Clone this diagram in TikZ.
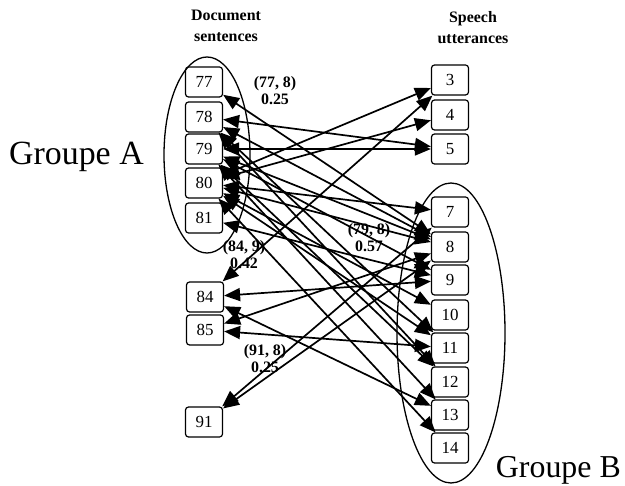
\documentclass[tikz,border=0pt]{standalone}
\usepackage{fontspec}
\setmainfont{Liberation Serif}
\usetikzlibrary{arrows.meta}
\begin{document}
\begin{tikzpicture}[x=1bp,y=-1bp,
  numbox/.style={draw,line width=1.2bp,rounded corners=3bp,minimum width=37bp,minimum height=30bp,inner sep=0pt,font=\fontsize{17}{17}\selectfont},
  link/.style={line width=1.7bp,{Triangle[length=16bp,width=13bp]}-{Triangle[length=16bp,width=13bp]}},
  head/.style={font=\bfseries\fontsize{16}{21}\selectfont,align=center,inner sep=0pt},
  score/.style={font=\bfseries\fontsize{16}{17}\selectfont,align=center,inner sep=0pt},
  group/.style={font=\fontsize{32}{32}\selectfont,inner sep=0pt},
  oval/.style={line width=1.3bp}]
\useasboundingbox (0,0) rectangle (625,486);

% column headings
\node[head] (hdoc) at (226,26) {Document\\sentences};
\node[head] (hsp) at (473,28) {Speech\\utterances};

% document sentences
\node[numbox] (d77) at (204,82) {77};
\node[numbox] (d78) at (204,117) {78};
\node[numbox] (d79) at (204,149) {79};
\node[numbox] (d80) at (204,183) {80};
\node[numbox] (d81) at (204,218) {81};
\node[numbox] (d84) at (205,297) {84};
\node[numbox] (d85) at (205,330) {85};
\node[numbox] (d91) at (204,422) {91};

% speech utterances
\node[numbox] (s3) at (450,80) {3};
\node[numbox] (s4) at (450,115) {4};
\node[numbox] (s5) at (450,149) {5};
\node[numbox] (s7) at (450,212) {7};
\node[numbox] (s8) at (450,247) {8};
\node[numbox] (s9) at (450,280) {9};
\node[numbox] (s10) at (450,315) {10};
\node[numbox] (s11) at (450,348) {11};
\node[numbox] (s12) at (450,382) {12};
\node[numbox] (s13) at (450,415) {13};
\node[numbox] (s14) at (450,448) {14};

% groups
\draw[oval] (207,155) ellipse [x radius=43, y radius=98];
\draw[oval] (451,333) ellipse [x radius=54, y radius=150];
\node[group,font=\fontsize{34}{34}\selectfont,anchor=base west] (ga) at (9,165) {Groupe A};
\node[group,anchor=base east] (gb) at (621,477) {Groupe B};

% alignment links
\foreach \a/\b in {d77/s8, d78/s5, d78/s8, d78/s11, d78/s12,
  d79/s5, d79/s8, d79/s9, d79/s12, d79/s13,
  d80/s3, d80/s4, d80/s7, d80/s8, d80/s10, d80/s11, d80/s14,
  d81/s9, d84/s3, d84/s9, d84/s13, d85/s8, d85/s11, d91/s8, d91/s7}
  \draw[link] (\a) -- (\b);

% link scores
\node[score] (l1) at (275,91) {(77, 8)\\0.25};
\node[score] (l2) at (244,255) {(84, 9)\\0.42};
\node[score] (l3) at (369,238) {(79, 8)\\0.57};
\node[score] (l4) at (265,359) {(91, 8)\\0.25};
\end{tikzpicture}
\end{document}
